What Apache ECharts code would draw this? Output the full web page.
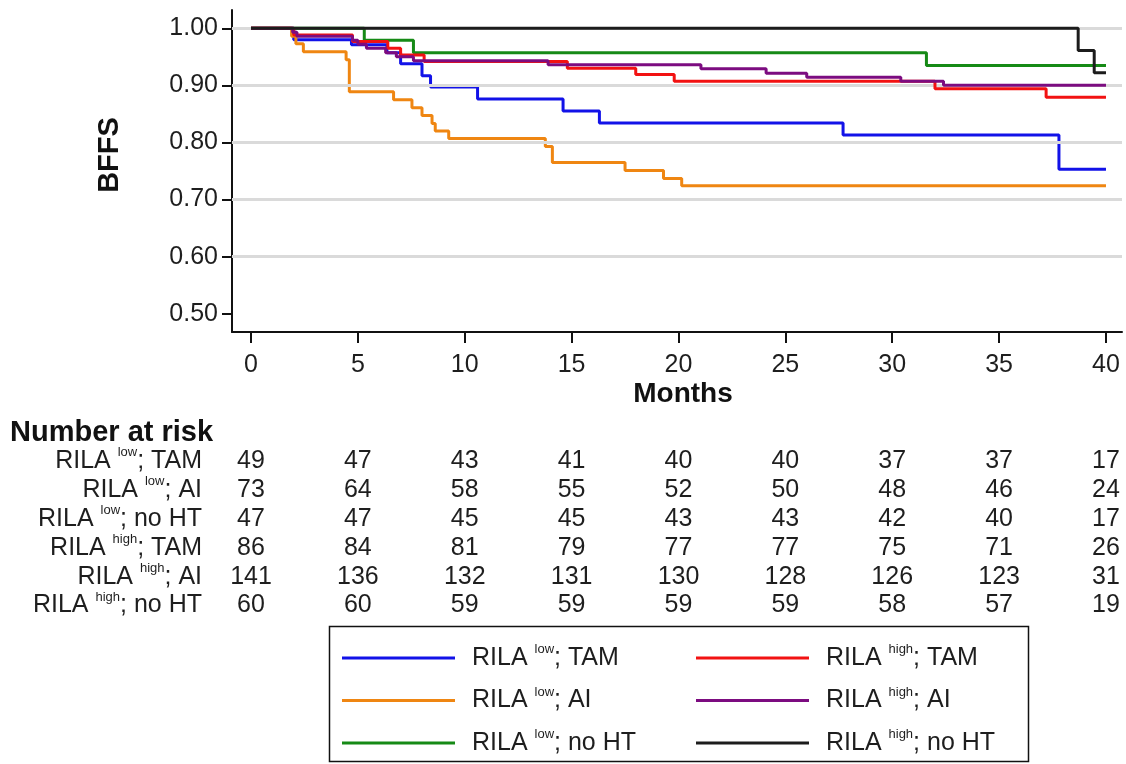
<!DOCTYPE html>
<html><head><meta charset="utf-8">
<script src="https://cdn.jsdelivr.net/npm/echarts@6/dist/echarts.min.js"></script>
<style>html,body{margin:0;padding:0;background:#fff}#c{width:1126px;height:764px}</style>
</head><body><div id="c"></div><script>
// ---------- DATA ----------
const groups = ['low', 'low', 'low', 'high', 'high', 'high'];
const therapies = ['TAM', 'AI', 'no HT', 'TAM', 'AI', 'no HT'];

// Kaplan-Meier step points (time in months, survival after drop)
const tLowTAM  = [0, 2.0, 4.7, 6.36, 7.0, 8.0, 8.4, 10.6, 14.6, 16.3, 27.7, 37.8, 40.0];
const sLowTAM  = [1, 0.980, 0.971, 0.957, 0.938, 0.917, 0.897, 0.876, 0.855, 0.834, 0.813, 0.753, 0.753];
const tLowAI   = [0, 1.9, 2.1, 2.45, 4.45, 4.6, 6.67, 7.53, 8.0, 8.47, 8.62, 9.25, 13.77, 14.1, 17.5, 19.3, 20.15, 40.0];
const sLowAI   = [1, 0.986, 0.973, 0.959, 0.945, 0.889, 0.875, 0.861, 0.847, 0.833, 0.820, 0.807, 0.793, 0.765, 0.751, 0.737, 0.724, 0.724];
const tLowNoHT = [0, 5.3, 7.6, 31.6, 40.0];
const sLowNoHT = [1, 0.979, 0.957, 0.935, 0.935];
const tHighTAM = [0, 2.0, 4.75, 6.4, 7.0, 8.1, 14.8, 18.0, 19.8, 32.0, 37.2, 40.0];
const sHighTAM = [1, 0.988, 0.977, 0.965, 0.953, 0.942, 0.930, 0.919, 0.907, 0.894, 0.879, 0.879];
const tHighAI  = [0, 1.95, 2.15, 4.75, 5.0, 5.4, 6.3, 6.8, 7.6, 13.9, 21.05, 24.1, 26.0, 30.4, 32.4, 40.0];
const sHighAI  = [1, 0.993, 0.986, 0.979, 0.972, 0.965, 0.957, 0.950, 0.943, 0.936, 0.929, 0.921, 0.914, 0.907, 0.900, 0.900];
const tHighNoHT = [0, 38.7, 39.45, 40.0];
const sHighNoHT = [1, 0.961, 0.922, 0.922];

const xTicks = [0, 5, 10, 15, 20, 25, 30, 35, 40];
const yTicks = [0.5, 0.6, 0.7, 0.8, 0.9, 1.0];
const gridVals = [0.6, 0.7, 0.8, 0.9, 1.0];

// Number at risk at 0,5,...,40 months
const riskLowTAM   = [49, 47, 43, 41, 40, 40, 37, 37, 17];
const riskLowAI    = [73, 64, 58, 55, 52, 50, 48, 46, 24];
const riskLowNoHT  = [47, 47, 45, 45, 43, 43, 42, 40, 17];
const riskHighTAM  = [86, 84, 81, 79, 77, 77, 75, 71, 26];
const riskHighAI   = [141, 136, 132, 131, 130, 128, 126, 123, 31];
const riskHighNoHT = [60, 60, 59, 59, 59, 59, 58, 57, 19];

// ---------- STYLE ----------
const colors = ['#1212e8', '#ef8612', '#168a16', '#f21212', '#7c0c80', '#1c1c1c'];
const FONT = "'Liberation Sans', Arial, sans-serif";
const TXT = '#1e1e1e';

const names = groups.map((g, i) => 'RILA ' + g + '; ' + therapies[i]);
const curveT = [tLowTAM, tLowAI, tLowNoHT, tHighTAM, tHighAI, tHighNoHT];
const curveS = [sLowTAM, sLowAI, sLowNoHT, sHighTAM, sHighAI, sHighNoHT];
const risk = [riskLowTAM, riskLowAI, riskLowNoHT, riskHighTAM, riskHighAI, riskHighNoHT];

const rich = {
  sp: { width: 12 },
  n: { fontSize: 25, fontFamily: FONT, color: TXT, lineHeight: 30 },
  s: { fontSize: 13, fontFamily: FONT, color: TXT, verticalAlign: 'top', lineHeight: 16 }
};
function richName(i, lead) {
  return (lead ? '{sp|}' : '') + '{n|RILA }{s|' + groups[i] + '}{n|; ' + therapies[i] + '}';
}

const X_MIN = -0.889, X_MAX = 40.75;

const series = [];
// gridlines
series.push({
  type: 'line', data: [], silent: true, z: 1, animation: false,
  markLine: {
    symbol: 'none', silent: true, animation: false, label: { show: false },
    lineStyle: { color: '#dadada', width: 3, type: 'solid' },
    emphasis: { disabled: true },
    data: gridVals.map(v => ({ yAxis: v }))
  }
});
curveT.forEach((t, i) => {
  series.push({
    name: names[i], type: 'line', step: 'end', symbol: 'none', showSymbol: false,
    xAxisIndex: 0, yAxisIndex: 0, z: 3 + i, animation: false,
    data: t.map((x, k) => [x, curveS[i][k]]),
    lineStyle: { color: colors[i], width: 3 },
    itemStyle: { color: colors[i] }
  });
});
// risk table
const riskData = [];
risk.forEach((row, i) => row.forEach((v, j) => riskData.push([xTicks[j], i, v])));
series.push({
  type: 'scatter', xAxisIndex: 1, yAxisIndex: 1, symbolSize: 1, animation: false, silent: true,
  itemStyle: { color: 'transparent' },
  data: riskData,
  label: { show: true, position: 'inside', formatter: p => p.value[2], fontSize: 25, fontFamily: FONT,
           color: TXT, textBorderWidth: 0, opacity: 1 }
});

const legendCommon = {
  orient: 'vertical', icon: 'rect', itemWidth: 113, itemHeight: 3, itemGap: 15, padding: 0,
  selectedMode: false, textStyle: { rich: rich }
};

const option = {
  backgroundColor: '#fff',
  animation: false,
  grid: [
    { left: 232, right: 4, top: 10, height: 322 },
    { left: 232, right: 4, top: 447, height: 173 }
  ],
  xAxis: [
    {
      type: 'value', gridIndex: 0, min: X_MIN, max: X_MAX,
      name: 'Months', nameLocation: 'middle', nameGap: 48,
      nameTextStyle: { fontSize: 28, fontWeight: 'bold', fontFamily: FONT, color: '#111', padding: [0, 0, 0, 12] },
      axisLine: { show: true, onZero: false, lineStyle: { color: '#111', width: 2 } },
      axisTick: { show: true, customValues: xTicks, length: 11, lineStyle: { color: '#111', width: 2 } },
      axisLabel: { customValues: xTicks, fontSize: 25, fontFamily: FONT, color: TXT, margin: 21 },
      splitLine: { show: false }
    },
    { type: 'value', gridIndex: 1, min: X_MIN, max: X_MAX, show: false }
  ],
  yAxis: [
    {
      type: 'value', gridIndex: 0, min: 0.468, max: 1.032,
      axisLine: { show: true, onZero: false, lineStyle: { color: '#111', width: 2 } },
      axisTick: { show: true, customValues: yTicks, length: 10, lineStyle: { color: '#111', width: 2 } },
      axisLabel: { customValues: yTicks, formatter: v => Number(v).toFixed(2), fontSize: 25, fontFamily: FONT, color: TXT, margin: 14 },
      splitLine: { show: false }
    },
    {
      type: 'category', gridIndex: 1, inverse: true, data: names,
      axisLine: { show: false }, axisTick: { show: false }, splitLine: { show: false },
      axisLabel: { margin: 30, formatter: (v, i) => richName(i, false), rich: rich }
    }
  ],
  legend: [
    Object.assign({ left: 342, top: 643, data: names.slice(0, 3), formatter: n => richName(names.indexOf(n), true) }, legendCommon),
    Object.assign({ left: 696, top: 643, data: names.slice(3), formatter: n => richName(names.indexOf(n), true) }, legendCommon)
  ],
  graphic: [
    { type: 'text', left: 10, top: 418, style: { text: 'Number at risk', font: 'bold 29px ' + FONT, fill: '#111' } },
    { type: 'text', x: 110, y: 155, rotation: Math.PI / 2,
      style: { text: 'BFFS', font: 'bold 29px ' + FONT, fill: '#111', align: 'center', verticalAlign: 'middle' } },
    { type: 'rect', shape: { x: 329.5, y: 626.5, width: 699, height: 135 },
      style: { fill: 'none', stroke: '#111', lineWidth: 1.5 }, z: 0 }
  ],
  series: series
};

const chart = echarts.init(document.getElementById('c'), null, { renderer: 'canvas' });
chart.setOption(option);
</script></body></html>
